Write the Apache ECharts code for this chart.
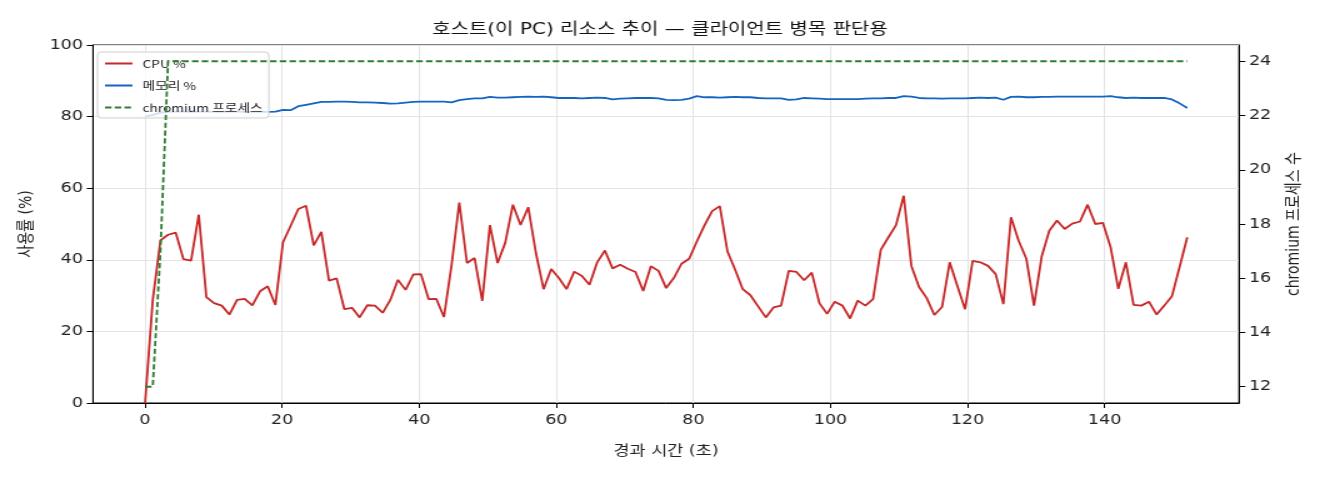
<!DOCTYPE html>
<html>

<head>
    <meta charset="utf-8">
    <title>호스트 리소스 추이</title>
    <style>
        html, body { margin: 0; padding: 0; background: #fff; overflow: hidden; }
        /* 원본 그림이 가로로 1.25배 늘어나 있어서 같은 비율로 늘림 */
        #chart-container {
            width: 1056px;
            height: 480px;
            transform: scaleX(1.25);
            transform-origin: 0 0;
        }
    </style>
    <script src="https://cdn.jsdelivr.net/npm/echarts@6/dist/echarts.min.js"></script>
</head>

<body>
    <div id="chart-container"></div>
    <script>
        // 경과 시간 (초) - 샘플 시각
        const elapsed = [
            0, 1.12, 2.24, 3.35, 4.47, 5.59, 6.71, 7.83, 8.94, 10.06,
            11.18, 12.30, 13.42, 14.53, 15.65, 16.77, 17.89, 19.01, 20.12, 21.24,
            22.36, 23.48, 24.60, 25.71, 26.83, 27.95, 29.07, 30.19, 31.30, 32.42,
            33.54, 34.66, 35.78, 36.89, 38.01, 39.13, 40.25, 41.37, 42.48, 43.60,
            44.72, 45.84, 46.96, 48.07, 49.19, 50.31, 51.43, 52.55, 53.66, 54.78,
            55.90, 57.02, 58.14, 59.25, 60.37, 61.49, 62.61, 63.73, 64.84, 65.96,
            67.08, 68.20, 69.32, 70.43, 71.55, 72.67, 73.79, 74.91, 76.02, 77.14,
            78.26, 79.38, 80.50, 81.61, 82.73, 83.85, 84.97, 86.09, 87.20, 88.32,
            89.44, 90.56, 91.68, 92.79, 93.91, 95.03, 96.15, 97.27, 98.38, 99.50,
            100.62, 101.74, 102.86, 103.97, 105.09, 106.21, 107.33, 108.45, 109.56, 110.68,
            111.80, 112.92, 114.04, 115.15, 116.27, 117.39, 118.51, 119.63, 120.74, 121.86,
            122.98, 124.10, 125.22, 126.33, 127.45, 128.57, 129.69, 130.81, 131.92, 133.04,
            134.16, 135.28, 136.40, 137.51, 138.63, 139.75, 140.87, 141.99, 143.10, 144.22,
            145.34, 146.46, 147.58, 148.69, 149.81, 150.93, 152.05
        ];

        // CPU %
        const cpuPct = [
            0, 28.8, 45.4, 47.0, 47.6, 40.2, 39.8, 52.6, 29.6, 27.9,
            27.2, 24.7, 28.8, 29.1, 27.3, 31.2, 32.6, 27.4, 44.9, 49.5,
            54.2, 55.1, 44.0, 47.8, 34.2, 34.8, 26.2, 26.6, 23.9, 27.3,
            27.2, 25.2, 28.8, 34.4, 31.6, 35.9, 36.0, 29.0, 29.1, 24.0,
            38.6, 56.0, 39.1, 40.5, 28.5, 49.7, 39.1, 44.8, 55.4, 49.7,
            54.7, 41.9, 31.8, 37.4, 34.9, 31.8, 36.7, 35.5, 33.0, 39.3,
            42.6, 37.6, 38.6, 37.5, 36.6, 31.3, 38.2, 36.9, 32.1, 34.9,
            38.9, 40.3, 45.1, 49.6, 53.6, 55.0, 42.3, 37.2, 31.8, 30.1,
            27.0, 23.9, 26.7, 27.2, 36.9, 36.6, 34.3, 36.4, 27.9, 24.9,
            28.3, 27.2, 23.6, 28.6, 27.2, 29.0, 42.8, 46.3, 49.7, 57.9,
            38.3, 32.4, 29.3, 24.6, 26.8, 39.3, 32.7, 26.2, 39.7, 39.3,
            38.3, 36.0, 27.6, 51.9, 45.3, 40.3, 27.2, 40.9, 48.1, 51.0,
            48.6, 50.1, 50.7, 55.4, 50.0, 50.3, 43.5, 31.9, 39.3, 27.4,
            27.2, 28.3, 24.7, 27.2, 29.8, 38.0, 46.3
        ];

        // 메모리 %
        const memPct = [
            80.0, 80.5, 81.1, 81.3, 81.4, 81.4, 81.3, 81.4, 81.4, 81.3,
            81.3, 81.4, 81.4, 81.3, 81.3, 81.3, 81.3, 81.4, 81.9, 81.8,
            82.9, 83.3, 83.7, 84.1, 84.1, 84.2, 84.2, 84.1, 84.0, 84.0,
            83.9, 83.8, 83.6, 83.7, 83.9, 84.1, 84.2, 84.2, 84.2, 84.2,
            84.0, 84.6, 84.9, 85.1, 85.1, 85.5, 85.3, 85.3, 85.4, 85.5,
            85.6, 85.5, 85.6, 85.4, 85.2, 85.2, 85.2, 85.1, 85.2, 85.3,
            85.2, 84.8, 85.0, 85.1, 85.2, 85.2, 85.2, 85.1, 84.7, 84.6,
            84.7, 85.0, 85.7, 85.4, 85.4, 85.3, 85.4, 85.5, 85.4, 85.4,
            85.2, 85.1, 85.1, 85.1, 84.7, 84.8, 85.2, 85.1, 85.0, 84.9,
            84.9, 84.9, 84.9, 84.9, 85.0, 85.1, 85.1, 85.2, 85.2, 85.7,
            85.6, 85.2, 85.1, 85.1, 85.0, 85.1, 85.1, 85.1, 85.2, 85.3,
            85.2, 85.3, 84.7, 85.5, 85.6, 85.4, 85.4, 85.5, 85.5, 85.6,
            85.6, 85.6, 85.6, 85.6, 85.6, 85.6, 85.7, 85.4, 85.2, 85.3,
            85.2, 85.2, 85.2, 85.2, 84.8, 83.7, 82.4
        ];

        // chromium 프로세스 수
        const chromiumCount = [
            12, 12, 17, 24, 24, 24, 24, 24, 24, 24,
            24, 24, 24, 24, 24, 24, 24, 24, 24, 24,
            24, 24, 24, 24, 24, 24, 24, 24, 24, 24,
            24, 24, 24, 24, 24, 24, 24, 24, 24, 24,
            24, 24, 24, 24, 24, 24, 24, 24, 24, 24,
            24, 24, 24, 24, 24, 24, 24, 24, 24, 24,
            24, 24, 24, 24, 24, 24, 24, 24, 24, 24,
            24, 24, 24, 24, 24, 24, 24, 24, 24, 24,
            24, 24, 24, 24, 24, 24, 24, 24, 24, 24,
            24, 24, 24, 24, 24, 24, 24, 24, 24, 24,
            24, 24, 24, 24, 24, 24, 24, 24, 24, 24,
            24, 24, 24, 24, 24, 24, 24, 24, 24, 24,
            24, 24, 24, 24, 24, 24, 24, 24, 24, 24,
            24, 24, 24, 24, 24, 24, 24
        ];

        // 눈금
        const xTicks = [0, 20, 40, 60, 80, 100, 120, 140];
        const rightTicks = [12, 14, 16, 18, 20, 22, 24];

        const FONT = '"DejaVu Sans", "Noto Sans CJK KR", sans-serif';
        const LEGEND_FONT = '"Noto Sans CJK KR", "Noto Sans", sans-serif';

        var dom = document.getElementById('chart-container');
        var myChart = echarts.init(dom, null, { renderer: 'canvas' });

        function pairs(ys) {
            return elapsed.map((t, i) => [t, ys[i]]);
        }

        var tickText = { fontFamily: FONT, fontSize: 14, color: '#222' };
        var nameText = { fontFamily: FONT, fontSize: 14, color: '#222' };

        var option = {
            animation: false,
            backgroundColor: '#fff',
            textStyle: { fontFamily: FONT },
            title: {
                text: '호스트(이 PC) 리소스 추이 — 클라이언트 병목 판단용',
                left: 'center',
                top: 17,
                textStyle: { fontFamily: FONT, fontSize: 16, fontWeight: 'normal', color: '#111' }
            },
            legend: {
                orient: 'vertical',
                left: 78,
                top: 52,
                padding: [6, 5, 5, 5],
                itemWidth: 22,
                itemHeight: 12,
                itemGap: 11,
                backgroundColor: 'rgba(255,255,255,0.8)',
                borderColor: '#d0d0d0',
                borderWidth: 1,
                borderRadius: 3,
                itemStyle: { opacity: 0 },
                textStyle: { fontFamily: LEGEND_FONT, fontSize: 11, color: '#222', padding: [0, 0, 0, 3] },
                data: ['CPU %', '메모리 %', 'chromium 프로세스']
            },
            grid: {
                left: 74.4,
                right: 64.8,
                top: 45,
                bottom: 77,
                show: true,
                borderColor: '#000',
                borderWidth: 1
            },
            xAxis: {
                type: 'value',
                min: -7.6,
                max: 159.6,
                name: '경과 시간 (초)',
                nameLocation: 'middle',
                nameGap: 41,
                nameTextStyle: nameText,
                axisLine: { onZero: false, lineStyle: { color: '#000', width: 1 } },
                axisTick: { show: true, length: 5, lineStyle: { color: '#000' }, customValues: xTicks },
                axisLabel: Object.assign({ margin: 10, customValues: xTicks }, tickText),
                splitLine: { show: true, lineStyle: { color: '#e4e4e4', width: 1 } }
            },
            yAxis: [
                {
                    type: 'value',
                    min: 0,
                    max: 100,
                    interval: 20,
                    name: '사용률 (%)',
                    nameLocation: 'middle',
                    nameRotate: 90,
                    nameGap: 43,
                    nameTextStyle: nameText,
                    axisLine: { show: true, onZero: false, lineStyle: { color: '#000', width: 1 } },
                    axisTick: { show: true, length: 5, lineStyle: { color: '#000' } },
                    axisLabel: Object.assign({ margin: 8 }, tickText),
                    splitLine: { show: true, lineStyle: { color: '#e4e4e4', width: 1 } }
                },
                {
                    type: 'value',
                    position: 'right',
                    min: 11.4,
                    max: 24.6,
                    name: 'chromium 프로세스 수',
                    nameLocation: 'middle',
                    nameRotate: 90,
                    nameGap: 36,
                    nameTextStyle: nameText,
                    axisLine: { show: true, onZero: false, lineStyle: { color: '#000', width: 1 } },
                    axisTick: { show: true, length: 5, lineStyle: { color: '#000' }, customValues: rightTicks },
                    axisLabel: Object.assign({ margin: 8, customValues: rightTicks }, tickText),
                    splitLine: { show: false }
                }
            ],
            series: [
                {
                    name: 'CPU %',
                    type: 'line',
                    yAxisIndex: 0,
                    data: pairs(cpuPct),
                    symbol: 'none',
                    z: 2,
                    lineStyle: { color: '#c62828', width: 1.8 },
                    itemStyle: { color: '#c62828' }
                },
                {
                    name: '메모리 %',
                    type: 'line',
                    yAxisIndex: 0,
                    data: pairs(memPct),
                    symbol: 'none',
                    z: 2,
                    lineStyle: { color: '#1565c0', width: 1.8 },
                    itemStyle: { color: '#1565c0' }
                },
                {
                    name: 'chromium 프로세스',
                    type: 'line',
                    yAxisIndex: 1,
                    data: pairs(chromiumCount),
                    symbol: 'none',
                    z: 6,
                    lineStyle: { color: '#2e7d32', width: 1.8, type: [5.2, 2.6] },
                    itemStyle: { color: '#2e7d32' }
                }
            ]
        };

        if (option && typeof option === 'object') {
            myChart.setOption(option);
        }

        window.addEventListener('resize', myChart.resize);
    </script>
</body>

</html>
